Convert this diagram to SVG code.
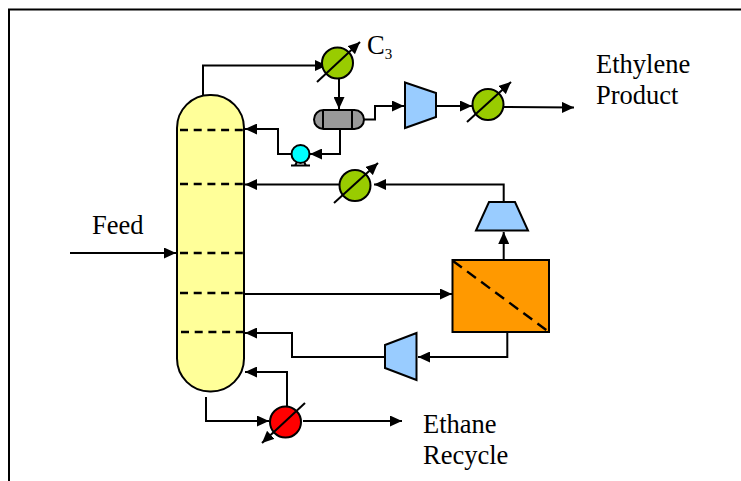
<svg xmlns="http://www.w3.org/2000/svg" width="741" height="481" viewBox="0 0 741 481">
<style>
.l{fill:none;stroke:#000;stroke-width:2}
.o{stroke:#000;stroke-width:2}
.d{fill:none;stroke:#000;stroke-width:2.400;stroke-dasharray:8 5.700}
.t{font-family:"Liberation Serif",serif;font-size:26.5px;fill:#000}
.g{fill:#99cc00}
.c{fill:#99ccff}
</style>
<defs>
<marker id="a" markerUnits="userSpaceOnUse" markerWidth="12" markerHeight="11" refX="12" refY="5.500" orient="auto"><path d="M0 0L12 5.500L0 11Z"/></marker>
</defs>
<rect width="741" height="481" fill="#fff"/>
<path id="frame" class="l" d="M9 481V9.500H741"/>
<g id="connectors">
<path class="l" d="M203 95V65.500H327" marker-end="url(#a)"/>
<path class="l" d="M339 79V109" marker-end="url(#a)"/>
<path class="l" d="M364 119.500H375V106H404" marker-end="url(#a)"/>
<path class="l" d="M436 106H472" marker-end="url(#a)"/>
<path class="l" d="M504 107L574 107.500" marker-end="url(#a)"/>
<path class="l" d="M340 129V154H310" marker-end="url(#a)"/>
<path class="l" d="M291 154H278V129H245" marker-end="url(#a)"/>
<path class="l" d="M503.700 202V184.500H374" marker-end="url(#a)"/>
<path class="l" d="M339 184.500H245" marker-end="url(#a)"/>
<path class="l" d="M503.700 260V232" marker-end="url(#a)"/>
<path class="l" d="M244 294H452" marker-end="url(#a)"/>
<path class="l" d="M507.300 332V357H418" marker-end="url(#a)"/>
<path class="l" d="M385 357H292V333H245" marker-end="url(#a)"/>
<path class="l" d="M287 407V372H245" marker-end="url(#a)"/>
<path class="l" d="M206 397V421H269" marker-end="url(#a)"/>
<path class="l" d="M303 421H402" marker-end="url(#a)"/>
<path class="l" d="M70 253H176" marker-end="url(#a)"/>
</g>
<g id="column">
<rect class="o" x="177" y="95" width="67" height="296.500" rx="33" fill="#ffff99"/>
<path class="d" d="M180 130H244M180 184H244M180 253H244M180 293H244M181 332H244"/>
</g>
<g id="cooler-c3"><circle class="o g" cx="337.500" cy="63" r="15.500"/><path class="l" d="M317 82L360 42" marker-end="url(#a)"/></g>
<g id="drum"><rect class="o" x="314" y="110" width="50" height="19" rx="9.500" fill="#999"/><path class="l" d="M323 110V129M352 110V129"/></g>
<g id="compressor-1"><path class="o c" d="M405 82.500L436 93V117L405 128Z"/></g>
<g id="cooler-product"><circle class="o g" cx="488" cy="104.500" r="15.500"/><path class="l" d="M467 122L511 82" marker-end="url(#a)"/></g>
<g id="pump"><circle class="o" cx="300.500" cy="154" r="9" fill="#00ffff"/><path class="l" d="M291 165.500H310M295 165.500L297 162M306 165.500L304 162"/></g>
<g id="cooler-mid"><circle class="o g" cx="355" cy="185.500" r="15.500"/><path class="l" d="M334 203L378 163" marker-end="url(#a)"/></g>
<g id="compressor-2"><path class="o c" d="M489 202H515L528 230.500H476Z"/></g>
<g id="separator"><rect class="o" x="452.500" y="260" width="96.500" height="72" fill="#ff9900"/><path class="d" style="stroke-dasharray:11 6.500" d="M453 261L549 332"/></g>
<g id="compressor-3"><path class="o c" d="M416.500 333V380L385 368V345Z"/></g>
<g id="reboiler"><circle class="o" cx="285.500" cy="422" r="15.500" fill="#ff0000"/><path class="l" d="M305 403L262 443" marker-end="url(#a)"/></g>
<g id="labels">
<text class="t" x="92" y="234">Feed</text>
<text class="t" x="367" y="54">C<tspan font-size="15" dy="5">3</tspan></text>
<text class="t" x="596" y="73">Ethylene</text>
<text class="t" x="596" y="104">Product</text>
<text class="t" x="423" y="433">Ethane</text>
<text class="t" x="423" y="464">Recycle</text>
</g>
</svg>
